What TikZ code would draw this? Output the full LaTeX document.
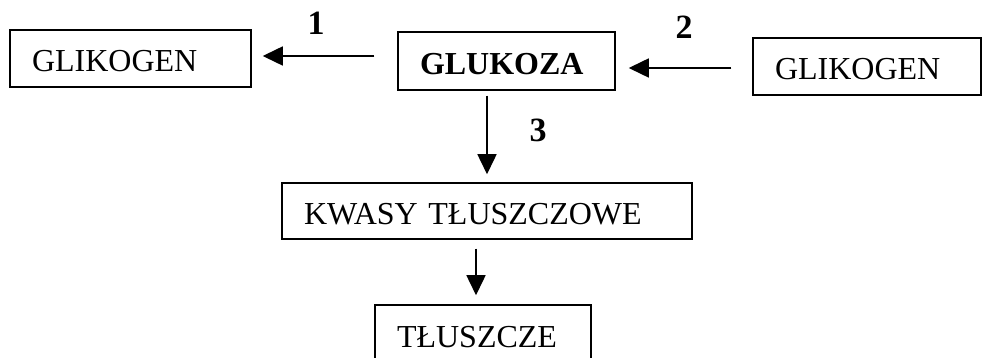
\documentclass[tikz,border=0pt]{standalone}
\usepackage{fontspec}
\setmainfont{Liberation Serif}
\usetikzlibrary{arrows.meta}

\tikzset{
	box/.style={draw, line width=1.5pt, inner xsep=22pt, inner ysep=0pt, align=left,
		text height=27pt, text depth=0pt, font=\fontsize{32}{36}\selectfont},
	num/.style={font=\fontsize{34}{40}\selectfont\bfseries},
	arr/.style={line width=1.5pt, -{Triangle[length=20pt,width=19pt]}}
}

\begin{document}
\begin{tikzpicture}[x=1pt, y=-1pt]
		%%%%% START %%%%%
		
		\clip (0, 0) rectangle (983, 358);
		
		\node[box, text width=197pt, minimum height=57pt] (glik1) at (130.5, 58.5) {GLIKOGEN};
		\node[box, text width=173pt, minimum height=58pt] (glukoza) at (506.5, 61) {\bfseries GLUKOZA};
		\node[box, text width=184pt, minimum height=57pt] (glik2) at (867, 66.5) {GLIKOGEN};
		
		\node[box, text width=366pt, minimum height=56pt] (kwasy) at (487, 211) {KWASY TŁUSZCZOWE};
		\node[box, text width=172pt, minimum height=57pt] (tluszcze) at (483, 333.5) {TŁUSZCZE};
		
		\node[num] (n1) at (316, 23) {1};
		\node[num] (n2) at (684, 27.5) {2};
		\node[num] (n3) at (538, 130) {3};
		
		\draw[arr, shorten <=23pt, shorten >=11pt] (glukoza.west |- 0,56) -- (glik1.east |- 0,56);
		\draw[arr, shorten <=21pt, shorten >=13pt] (glik2.west |- 0,68) -- (glukoza.east |- 0,68);
		\draw[arr, shorten <=5pt, shorten >=8pt] (glukoza.south -| kwasy) -- (kwasy.north);
		\draw[arr, shorten <=9pt, shorten >=9pt] (kwasy.south -| 476,0) -- (tluszcze.north -| 476,0);
		
		%%%%% END %%%%%
	\end{tikzpicture}
\end{document}
